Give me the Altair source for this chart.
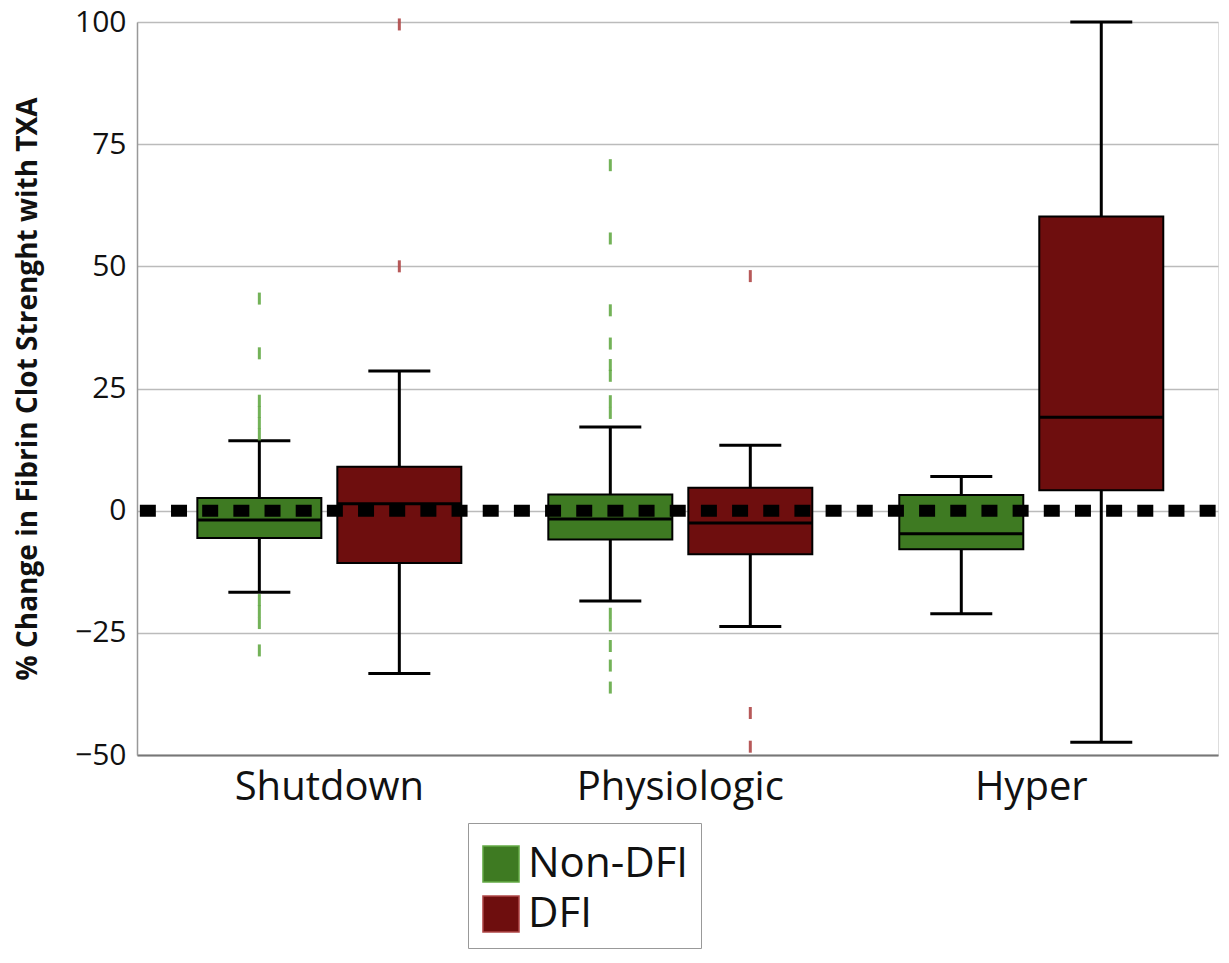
import altair as alt
import pandas as pd

categories = ["Shutdown", "Physiologic", "Hyper"]
groups = ["Non-DFI", "DFI"]

box_cat = ["Shutdown", "Shutdown", "Physiologic", "Physiologic", "Hyper", "Hyper"]
box_grp = ["Non-DFI", "DFI", "Non-DFI", "DFI", "Non-DFI", "DFI"]
whisk_lo = [-16.7, -33.3, -18.5, -23.7, -21.1, -47.4]
q1 = [-5.6, -10.7, -5.9, -8.9, -7.9, 4.2]
med = [-1.9, 1.4, -1.7, -2.5, -4.7, 19.1]
q3 = [2.6, 9.0, 3.3, 4.7, 3.2, 60.2]
whisk_hi = [14.3, 28.6, 17.1, 13.4, 7.0, 100.0]

out_sd_non = [43.4, 32.2, 22.5, 20.2, 17.9, 15.6, -18.3, -20.6, -23.0, -28.6]
out_sd_dfi = [99.5, 50.0]
out_ph_non = [70.7, 55.7, 41.0, 34.2, 29.8, 27.6, 22.4, 20.0, -21.1, -23.5, -27.7, -31.7, -36.2]
out_ph_dfi = [48.0, -41.4, -48.3]

y_ticks = [-50, -25, 0, 25, 50, 75, 100]

box_df = pd.DataFrame({"cat": box_cat, "grp": box_grp, "lo": whisk_lo,
                       "q1": q1, "med": med, "q3": q3, "hi": whisk_hi})
rows = []
for c, g, vals in [("Shutdown", "Non-DFI", out_sd_non), ("Shutdown", "DFI", out_sd_dfi),
                   ("Physiologic", "Non-DFI", out_ph_non), ("Physiologic", "DFI", out_ph_dfi)]:
    for v in vals:
        rows.append({"cat": c, "grp": g, "v": v})
out_df = pd.DataFrame(rows)
zero_df = pd.DataFrame({"z": [0]})

GREEN = "#3E7A22"
RED = "#6E0E0E"

x_scale = alt.Scale(domain=categories, paddingInner=0, paddingOuter=0.04, align=0.6)
xo_scale = alt.Scale(domain=groups, paddingInner=0, paddingOuter=0.2536)
y_scale = alt.Scale(domain=[-50, 100], nice=False, zero=False)

x_enc = alt.X("cat:N", sort=categories, scale=x_scale,
              axis=alt.Axis(title=None, labelAngle=0, labelFont="Open Sans", labelFontSize=40,
                            labelColor="#111", labelPadding=12, labelLimit=400, ticks=False,
                            domainColor="#777", domainWidth=2, grid=False))
xo_enc = alt.XOffset("grp:N", sort=groups, scale=xo_scale)

def yenc(field):
    return alt.Y(f"{field}:Q", scale=y_scale,
                 axis=alt.Axis(title="% Change in Fibrin Clot Strenght with TXA",
                               values=y_ticks, ticks=False, labelFont="Open Sans",
                               labelFontSize=30, labelColor="#111", labelPadding=11,
                               titleFont="Open Sans", titleFontWeight="bold",
                               titleFontSize=28, titleColor="#111", titlePadding=32,
                               domainColor="#999", domainWidth=1.5,
                               grid=True, gridColor="#BBBBBB", gridWidth=1.5))

base = alt.Chart(box_df)

whiskers = base.mark_rule(color="black", strokeWidth=3).encode(
    x=x_enc, xOffset=xo_enc, y=yenc("lo"), y2="hi:Q")

boxes = base.mark_bar(size=124, stroke="black", strokeWidth=2).encode(
    x=x_enc, xOffset=xo_enc, y=yenc("q1"), y2="q3:Q",
    color=alt.Color("grp:N", sort=groups,
                    scale=alt.Scale(domain=groups, range=[GREEN, RED]),
                    legend=alt.Legend(title=" ", titleFontSize=8, titlePadding=0,
                                      orient="none", legendX=331, legendY=801,
                                      symbolType="square", symbolSize=1300,
                                      symbolStrokeColor="#222", symbolStrokeWidth=1.5,
                                      labelFont="Open Sans", labelFontSize=42,
                                      labelColor="#111", labelOffset=6, labelLimit=400,
                                      rowPadding=6, padding=12, strokeColor="#999",
                                      fillColor="white")))

medians = base.mark_tick(size=124, thickness=3, color="black", opacity=1).encode(
    x=x_enc, xOffset=xo_enc, y=yenc("med"))

caps_lo = base.mark_tick(size=62, thickness=3, color="black", opacity=1).encode(
    x=x_enc, xOffset=xo_enc, y=yenc("lo"))

caps_hi = base.mark_tick(size=62, thickness=3, color="black", opacity=1).encode(
    x=x_enc, xOffset=xo_enc, y=yenc("hi"))

outliers = alt.Chart(out_df).mark_point(shape="M0,-1L0,1", size=144, strokeWidth=3,
                                         filled=False, opacity=0.9).encode(
    x=x_enc, xOffset=xo_enc, y=yenc("v"),
    stroke=alt.Stroke("grp:N", scale=alt.Scale(domain=groups, range=["#64AA46", "#B04848"]),
                      legend=None))

zero_line = alt.Chart(zero_df).mark_rule(color="black", strokeWidth=12,
                                         strokeDash=[16, 15.17], strokeDashOffset=28.8).encode(
    y=alt.Y("z:Q", scale=y_scale))

chart = alt.layer(whiskers, boxes, medians, caps_lo, caps_hi, outliers, zero_line).properties(
    width=1081, height=733,
    autosize=alt.AutoSizeParams(type="none"),
    padding={"left": 129, "top": 14, "right": 3, "bottom": 199},
).configure_view(stroke=None).configure(background="white")

chart.save("out.html", embed_options={"renderer": "svg", "actions": False})
